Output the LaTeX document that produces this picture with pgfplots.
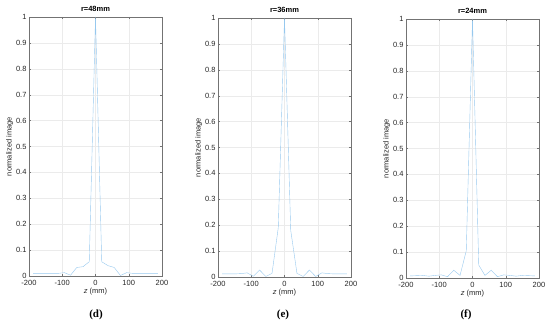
\documentclass[border=0pt]{standalone}
\usepackage{pgfplots}
\pgfplotsset{compat=1.18}
\usepackage{fontspec}
\setmainfont{Liberation Sans}
\newfontfamily\capfont{Liberation Serif}
\definecolor{lineblue}{RGB}{150,200,238}
\pgfplotsset{
  panel/.style={
    scale only axis,
    width=133pt, height=259pt,
    anchor=south west,
    xmin=-200, xmax=200, ymin=0, ymax=1,
    xtick={-200,-100,0,100,200},
    ytick={0,0.1,0.2,0.3,0.4,0.5,0.6,0.7,0.8,0.9,1},
    yticklabels={0,0.1,0.2,0.3,0.4,0.5,0.6,0.7,0.8,0.9,1},
    tick align=inside,
    major tick length=2pt,
    grid=major,
    major grid style={draw=black!8, line width=0.3pt},
    axis line style={draw=black!55, line width=0.4pt},
    every tick/.style={draw=black!55, line width=0.3pt},
    tick label style={font=\fontsize{7.5}{8.5}\selectfont, text=black!85},
    /pgf/number format/assume math mode=true,
    xticklabel style={yshift=-0.5pt},
    yticklabel style={xshift=1pt},
    label style={font=\fontsize{7.5}{8.5}\selectfont, text=black!85},
    xlabel={\textit{z} (mm)},
    ylabel={normalized image},
    xlabel style={yshift=4pt},
    ylabel style={yshift=-4pt},
    title style={font=\bfseries\fontsize{7.5}{8.5}\selectfont, yshift=-4pt},
    cycle list={{draw=lineblue, line width=0.5pt, mark=none}},
  }
}
\begin{document}
\begin{tikzpicture}[x=1pt,y=1pt]
\path[use as bounding box] (0,0) rectangle (550,327);
% (d)
\begin{axis}[panel, at={(29pt,51pt)}, title={r=48mm}]
\addplot coordinates {
(-187.5,0.010) (-168.75,0.010) (-150,0.010) (-131.25,0.010) (-112.5,0.010)
(-93.75,0.013) (-75,0.003) (-56.25,0.033) (-37.5,0.036) (-18.75,0.055)
(0,1) (18.75,0.055) (37.5,0.040) (56.25,0.033) (75,0.002) (93.75,0.013)
(112.5,0.010) (131.25,0.010) (150,0.010) (168.75,0.010) (187.5,0.010)
};
\end{axis}
% (e)
\begin{axis}[panel, at={(218pt,50pt)}, title={r=36mm}]
\addplot coordinates {
(-187.5,0.012) (-168.75,0.012) (-150,0.012) (-131.25,0.013) (-112.5,0.016)
(-93.75,0.003) (-75,0.027) (-56.25,0.002) (-37.5,0.014) (-18.75,0.19)
(0,1) (18.75,0.18) (37.5,0.014) (56.25,0.002) (75,0.027) (93.75,0.002)
(112.5,0.016) (131.25,0.013) (150,0.012) (168.75,0.012) (187.5,0.012)
};
\end{axis}
% (f)
\begin{axis}[panel, at={(406pt,49pt)}, title={r=24mm}]
\addplot coordinates {
(-187.5,0.008) (-168.75,0.009) (-150,0.010) (-131.25,0.007) (-112.5,0.010)
(-93.75,0.012) (-75,0.005) (-56.25,0.030) (-37.5,0.010) (-18.75,0.105)
(0,1) (18.75,0.050) (37.5,0.010) (56.25,0.030) (75,0.005) (93.75,0.012)
(112.5,0.010) (131.25,0.007) (150,0.010) (168.75,0.009) (187.5,0.008)
};
\end{axis}
\node[font=\capfont\bfseries\fontsize{11}{12}\selectfont] at (96,12) {(d)};
\node[font=\capfont\bfseries\fontsize{11}{12}\selectfont] at (283,12) {(e)};
\node[font=\capfont\bfseries\fontsize{11}{12}\selectfont] at (466,12) {(f)};
\end{tikzpicture}
\end{document}
